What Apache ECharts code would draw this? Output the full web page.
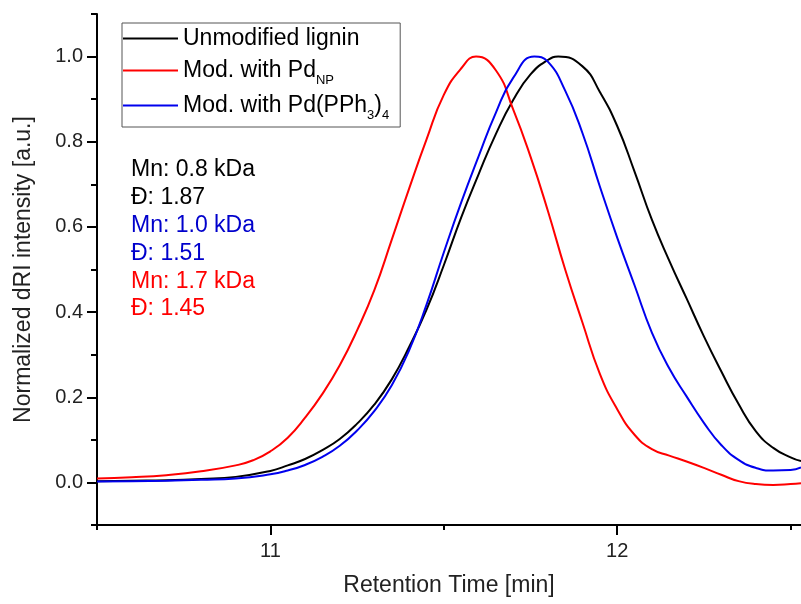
<!DOCTYPE html>
<html>
<head>
<meta charset="utf-8">
<script src="https://cdn.jsdelivr.net/npm/echarts@6/dist/echarts.min.js"></script>
<style>
  html, body { margin: 0; padding: 0; background: #fff; }
  #chart { width: 801px; height: 604px; }
</style>
</head>
<body>
<div id="chart"></div>
<script>
const font = 'Liberation Sans'

// tick positions
const xMajor = [11, 12]
const xMinor = [10.5, 11.5, 12.5]
const yMajor = [0, 0.2, 0.4, 0.6, 0.8, 1.0]
const yMinor = [-0.1, 0.1, 0.3, 0.5, 0.7, 0.9, 1.1]

// [retention time, normalized intensity]
const unmodified = [
  [10.5, 0.003], [10.6, 0.004], [10.7, 0.005], [10.8, 0.008], [10.9, 0.013], [11.0, 0.027],
  [11.05, 0.04], [11.1, 0.055], [11.15, 0.076], [11.2, 0.102], [11.25, 0.138], [11.3, 0.183],
  [11.35, 0.242], [11.4, 0.318], [11.45, 0.405], [11.5, 0.51], [11.55, 0.622], [11.6, 0.723],
  [11.65, 0.818], [11.7, 0.898], [11.75, 0.958], [11.8, 0.992], [11.83, 1.0], [11.9, 0.977],
  [11.95, 0.917], [12.0, 0.837], [12.05, 0.73], [12.1, 0.617], [12.15, 0.521], [12.2, 0.432],
  [12.25, 0.343], [12.3, 0.261], [12.35, 0.184], [12.4, 0.12], [12.45, 0.081], [12.5, 0.059],
  [12.53, 0.05]
]
const pdNP = [
  [10.5, 0.009], [10.6, 0.012], [10.7, 0.017], [10.8, 0.026], [10.9, 0.04], [10.95, 0.052],
  [11.0, 0.073], [11.05, 0.105], [11.1, 0.152], [11.15, 0.208], [11.2, 0.275], [11.25, 0.357],
  [11.3, 0.452], [11.35, 0.57], [11.4, 0.69], [11.45, 0.805], [11.5, 0.91], [11.55, 0.972],
  [11.593, 1.0], [11.65, 0.968], [11.7, 0.876], [11.75, 0.765], [11.8, 0.638], [11.85, 0.5],
  [11.9, 0.375], [11.95, 0.255], [12.0, 0.172], [12.05, 0.112], [12.1, 0.078], [12.15, 0.063],
  [12.2, 0.049], [12.25, 0.034], [12.3, 0.018], [12.35, 0.003], [12.4, -0.004], [12.45, -0.006],
  [12.5, -0.004], [12.53, -0.002]
]
const pdPPh3 = [
  [10.5, 0.002], [10.6, 0.003], [10.7, 0.004], [10.8, 0.006], [10.9, 0.009], [11.0, 0.019],
  [11.05, 0.028], [11.1, 0.041], [11.15, 0.06], [11.2, 0.086], [11.25, 0.122], [11.3, 0.168],
  [11.35, 0.228], [11.4, 0.31], [11.45, 0.417], [11.5, 0.54], [11.55, 0.657], [11.6, 0.765],
  [11.65, 0.868], [11.7, 0.95], [11.761, 1.0], [11.8, 0.988], [11.85, 0.92], [11.9, 0.82],
  [11.95, 0.695], [12.0, 0.575], [12.05, 0.463], [12.1, 0.352], [12.15, 0.268], [12.2, 0.202],
  [12.25, 0.14], [12.3, 0.088], [12.35, 0.053], [12.4, 0.034], [12.45, 0.028], [12.5, 0.029],
  [12.53, 0.035]
]

const names = ['Unmodified lignin', 'Mod. with PdNP', 'Mod. with Pd(PPh3)4']
const legendText = ['Unmodified lignin', 'Mod. with Pd{sub|NP}', 'Mod. with Pd(PPh{sub|3}){sub|4}']
const colors = ['#000000', '#ff0000', '#0000ee']

const notes = ['Mn: 0.8 kDa', 'Đ: 1.87', 'Mn: 1.0 kDa', 'Đ: 1.51', 'Mn: 1.7 kDa', 'Đ: 1.45']
const noteColors = ['#000000', '#000000', '#0000cc', '#0000cc', '#ff0000', '#ff0000']

const chart = echarts.init(document.getElementById('chart'))

const xBase = {
  type: 'value', min: 10.5, max: 12.53,
  axisLine: { show: true, onZero: false, lineStyle: { color: '#000', width: 2 } },
  splitLine: { show: false }
}
const yBase = {
  type: 'value', min: -0.1, max: 1.1,
  axisLine: { show: true, onZero: false, lineStyle: { color: '#000', width: 2 } },
  splitLine: { show: false }
}

const option = {
  animation: false,
  color: colors,
  grid: { left: 97, right: 0, top: 14, bottom: 79 },
  legend: {
    orient: 'vertical',
    left: 122, top: 23,
    padding: [2, 11, 5, 1],
    itemGap: 2,
    itemWidth: 55,
    itemHeight: 2,
    icon: 'rect',
    borderColor: '#555',
    borderWidth: 1,
    data: names,
    formatter: name => legendText[names.indexOf(name)],
    textStyle: {
      fontFamily: font, fontSize: 23, color: '#000', lineHeight: 27,
      rich: { sub: { fontFamily: font, fontSize: 13, lineHeight: 13, padding: [20, 0, 0, 0] } }
    }
  },
  xAxis: [
    Object.assign({}, xBase, {
      axisTick: { show: true, inside: false, length: 5, lineStyle: { color: '#000', width: 2 }, customValues: xMinor },
      axisLabel: { show: false }
    }),
    Object.assign({}, xBase, {
      position: 'bottom',
      name: 'Retention Time [min]', nameLocation: 'middle', nameGap: 49,
      nameTextStyle: { fontFamily: font, fontSize: 23, color: '#222' },
      axisLine: { show: false, onZero: false },
      axisTick: { show: true, inside: false, length: 10, lineStyle: { color: '#000', width: 2 }, customValues: xMajor },
      axisLabel: { fontFamily: font, fontSize: 20, color: '#222', margin: 16, customValues: xMajor }
    })
  ],
  yAxis: [
    Object.assign({}, yBase, {
      axisTick: { show: true, inside: false, length: 6, lineStyle: { color: '#000', width: 2 }, customValues: yMinor },
      axisLabel: { show: false }
    }),
    Object.assign({}, yBase, {
      position: 'left',
      name: 'Normalized dRI intensity [a.u.]', nameLocation: 'middle', nameGap: 62,
      nameTextStyle: { fontFamily: font, fontSize: 23, color: '#222' },
      axisLine: { show: false, onZero: false },
      axisTick: { show: true, inside: false, length: 10, lineStyle: { color: '#000', width: 2 }, customValues: yMajor },
      axisLabel: { fontFamily: font, fontSize: 20, color: '#222', margin: 14, customValues: yMajor, formatter: v => v.toFixed(1) }
    })
  ],
  graphic: notes.map((t, i) => ({
    type: 'text', x: 131, y: 170 + i * 27.8,
    style: { text: t, fill: noteColors[i], font: '23px "Liberation Sans"', verticalAlign: 'middle', textVerticalAlign: 'middle' }
  })),
  series: [unmodified, pdNP, pdPPh3].map((d, i) => ({
    name: names[i],
    type: 'line',
    data: d,
    smooth: 0.5,
    symbol: 'none',
    lineStyle: { width: 2, color: colors[i] }
  }))
}

chart.setOption(option)
</script>
</body>
</html>
